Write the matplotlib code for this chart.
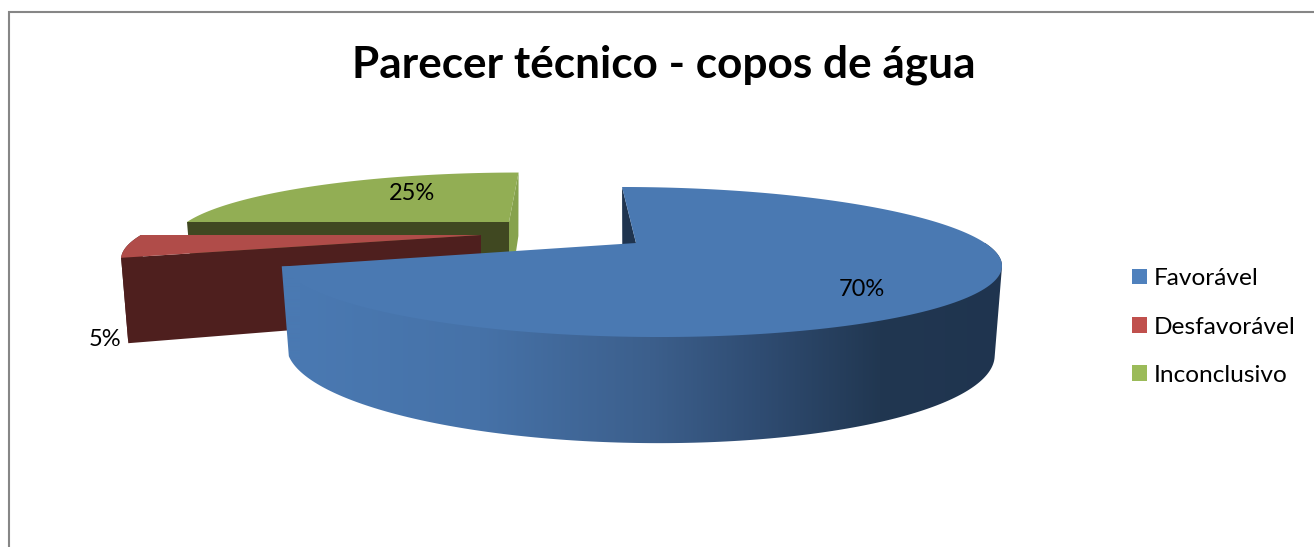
import numpy as np
import matplotlib
matplotlib.use('Agg')
import matplotlib.pyplot as plt
from matplotlib.patches import Polygon, Patch
from matplotlib.colors import to_rgb

title = 'Parecer técnico - copos de água'
labels = ['Favorável', 'Desfavorável', 'Inconclusivo']
values = [70, 5, 25]

legend_colors = ['#4f81bd', '#c0504d', '#9bbb59']
top_colors = ['#4a79b2', '#b04c49', '#92ae54']
K = 0.2534

plt.rcParams['font.family'] = ['Lato', 'DejaVu Sans']

# look of each slice: apex, radii, shear, depth (pixels)
geom = [
    dict(ax=636, ay=243, rx=349, ry=70.2, sh=17.5, h=84),
    dict(ax=481, ay=235, rx=340, ry=68, sh=-27, h=80),
    dict(ax=509, ay=222, rx=322, ry=62, sh=-12, h=76),
]


def proj(g, th, r=1.0, low=False):
    # th in degrees clockwise from 12 o'clock
    t = np.radians(th)
    u = r * np.sin(t)
    v = -r * np.cos(t)
    d = 1 / (1 - K * v)
    x = g['rx'] * u * d + g['sh'] * v * d
    y = g['ry'] * v * d
    if low:
        x = x * 0.98
        y = y + g['h'] * d ** 0.8
    return g['ax'] + x, g['ay'] + y


def arc(g, a, b, low=False):
    th = np.linspace(a, b, 200)
    x, y = proj(g, th, low=low)
    return np.column_stack([x, y])


def face(g, th):
    x0, y0 = proj(g, th, r=0)
    x0b, y0b = proj(g, th, r=0, low=True)
    x1, y1 = proj(g, th)
    x1b, y1b = proj(g, th, low=True)
    return [(x0, y0), (x1, y1), (x1b, y1b), (x0b, y0b)]


def rim_shape(g, a, b):
    return np.vstack([arc(g, a, b), arc(g, a, b, low=True)[::-1]])


def hull(pts):
    # monotone chain, the outline of the front part of the rim
    pts = sorted(map(tuple, pts))

    def half(seq):
        out = []
        for p in seq:
            while len(out) > 1 and ((out[-1][0] - out[-2][0]) * (p[1] - out[-2][1])
                                    - (out[-1][1] - out[-2][1]) * (p[0] - out[-2][0])) <= 0:
                out.pop()
            out.append(p)
        return out[:-1]

    return np.array(half(pts) + half(pts[::-1]))


def gradient_rim(ax, g, a, b):
    # blue rim goes dark towards the right
    stops_x = [300, 480, 650, 760, 880, 1010]
    stops_c = ['#4a79b2', '#4672a8', '#3c5f8c', '#2f4c72', '#213751', '#1f344f']
    rgb = np.array([to_rgb(c) for c in stops_c])
    xs = np.arange(270, 1011)
    img = np.stack([np.interp(xs, stops_x, rgb[:, i]) for i in range(3)], axis=-1)[None, :, :]
    im = ax.imshow(img, extent=(270, 1011, 460, 180), aspect='auto', zorder=1, interpolation='bilinear')
    clip = Polygon(hull(rim_shape(g, a, b)), transform=ax.transData, fc='none', ec='none')
    ax.add_patch(clip)
    im.set_clip_path(clip)


fig = plt.figure(figsize=(13.14, 5.47), dpi=100)
ax = fig.add_axes([0, 0, 1, 1])
ax.axis('off')

# frame of the chart area
ax.plot([8.5, 8.5, 1314], [547, 12, 12], color='#868686', lw=1.5, solid_joinstyle='miter')

edges = np.cumsum([0] + values) * 3.6

# back to front: green, red, blue
g = geom[2]
ax.add_patch(Polygon(face(g, edges[3]), fc='#86a24d', ec='none', zorder=0))
ax.add_patch(Polygon(face(g, edges[2]), fc='#404821', ec='none', zorder=0))
ax.add_patch(Polygon(np.vstack([[proj(g, edges[2], r=0)], arc(g, edges[2], edges[3])]),
                     fc=top_colors[2], ec='none', zorder=0))

g = geom[1]
ax.add_patch(Polygon(rim_shape(g, edges[1], edges[2]), fc='#4e1f1e', ec='none', zorder=0))
ax.add_patch(Polygon(face(g, edges[1]), fc='#4e1f1e', ec='none', zorder=0))
ax.add_patch(Polygon(np.vstack([[proj(g, edges[1], r=0)], arc(g, edges[1], edges[2])]),
                     fc=top_colors[1], ec='none', zorder=0))

g = geom[0]
gradient_rim(ax, g, edges[0] + 90, edges[1])
ax.add_patch(Polygon(face(g, edges[0]), fc='#1f344f', ec='none', zorder=1.5))
ax.add_patch(Polygon(np.vstack([[proj(g, edges[0], r=0)], arc(g, edges[0], edges[1])]),
                     fc=top_colors[0], ec='none', zorder=2))

ax.set_xlim(0, 1314)
ax.set_ylim(547, 0)

# value labels
label_pos = [(862, 289), (105, 339), (412, 193)]
for v, (x, y) in zip(values, label_pos):
    ax.text(x, y, '%d%%' % v, ha='center', va='center', fontsize=17, color='black', zorder=5)

ax.text(664, 65, title, ha='center', va='center', fontsize=31.8, fontweight='bold', color='black')

handles = [Patch(fc=c, ec='none') for c in legend_colors]
ax.legend(handles, labels, loc='center left', bbox_to_anchor=(1132 / 1314, 1 - 327 / 547),
          frameon=False, fontsize=17.6, handlelength=0.62, handleheight=0.62,
          handletextpad=0.28, labelspacing=1.12, borderpad=0, borderaxespad=0)

fig.savefig('out.png', dpi=100)
